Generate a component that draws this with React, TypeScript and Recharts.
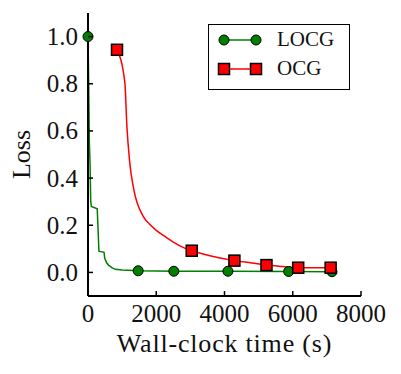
import React from "react";
import { ComposedChart, Line, Scatter, XAxis, YAxis, Legend } from "recharts";

// LOCG curve (wall-clock seconds, loss)
const locgTime = [0, 20, 40, 60, 80, 100, 270, 290, 320, 470, 490, 550, 610, 700, 800, 1000, 1470, 2515, 4100, 5880, 7150];
const locgLoss = [1.0, 0.8, 0.55, 0.46, 0.3, 0.28, 0.27, 0.2, 0.09, 0.085, 0.06, 0.04, 0.03, 0.02, 0.013, 0.01, 0.007, 0.005, 0.005, 0.004, 0.003];
const locgMarkTime = [0, 1470, 2515, 4100, 5880, 7150];
const locgMarkLoss = [1.0, 0.007, 0.005, 0.005, 0.004, 0.003];

// OCG curve
const ocgTime = [850, 1080, 1140, 1220, 1345, 1610, 1800, 2000, 2300, 2600, 2850, 3040, 3400, 3800, 4290, 4800, 5230, 5700, 6160, 6600, 7110];
const ocgLoss = [0.944, 0.805, 0.62, 0.47, 0.35, 0.24, 0.205, 0.178, 0.148, 0.12, 0.102, 0.092, 0.077, 0.063, 0.05, 0.04, 0.031, 0.025, 0.02, 0.02, 0.02];
const ocgMarkTime = [850, 3040, 4290, 5230, 6160, 7110];
const ocgMarkLoss = [0.944, 0.092, 0.05, 0.031, 0.02, 0.02];

const xTicks = [0, 2000, 4000, 6000, 8000];
const yTicks = [0, 0.2, 0.4, 0.6, 0.8, 1.0];

const zip = (t: number[], v: number[]) => t.map((x, i) => ({ t: x, v: v[i] }));
const locgLine = zip(locgTime, locgLoss);
const locgMarks = zip(locgMarkTime, locgMarkLoss);
const ocgLine = zip(ocgTime, ocgLoss);
const ocgMarks = zip(ocgMarkTime, ocgMarkLoss);

const FONT = "'Liberation Serif', 'Times New Roman', serif";
const GREEN = "#007f00";
const RED = "#ff0000";
const TICK = 5;

const BottomTick = ({ x, y, payload }: any) => (
  <g>
    <line x1={x} x2={x} y1={y} y2={y - TICK} stroke="#000" strokeWidth={1.5} />
    <text x={x} y={y + 17} textAnchor="middle" dominantBaseline="central" fontFamily={FONT} fontSize={25} fill="#111">
      {payload.value}
    </text>
  </g>
);
const TopTick = ({ x, y }: any) => (
  <line x1={x} x2={x} y1={y} y2={y + TICK} stroke="#000" strokeWidth={1.5} />
);
const LeftTick = ({ x, y, payload }: any) => (
  <g>
    <line x1={x} x2={x + TICK} y1={y} y2={y} stroke="#000" strokeWidth={1.5} />
    <text x={x - 10} y={y} textAnchor="end" dominantBaseline="central" fontFamily={FONT} fontSize={25} fill="#111">
      {payload.value.toFixed(1)}
    </text>
  </g>
);
const RightTick = ({ x, y }: any) => (
  <line x1={x} x2={x - TICK} y1={y} y2={y} stroke="#000" strokeWidth={1.5} />
);

const Circle = ({ cx, cy }: any) => (
  <circle cx={cx} cy={cy} r={5} fill={GREEN} stroke="#000" strokeWidth={1} />
);
const Square = ({ cx, cy }: any) => (
  <rect x={cx - 5.5} y={cy - 5.5} width={11} height={11} fill={RED} stroke="#000" strokeWidth={1.5} />
);

const legendItems = [
  { name: "LOCG", color: GREEN, shape: "circle" },
  { name: "OCG", color: RED, shape: "square" },
];

const LegendBox = () => (
  <div style={{ border: "1.5px solid #000", background: "#fff", width: 142, height: 66, boxSizing: "border-box", fontFamily: FONT, fontSize: 21 }}>
    {legendItems.map((it) => (
      <div key={it.name} style={{ display: "flex", alignItems: "center", height: 29 }}>
        <svg width={68} height={20} style={{ display: "block" }}>
          <line x1={15} x2={47} y1={10} y2={10} stroke={it.color} strokeWidth={1.5} />
          {it.shape === "circle"
            ? [15, 47].map((c) => <circle key={c} cx={c} cy={10} r={5} fill={it.color} stroke="#000" strokeWidth={1} />)
            : [15, 47].map((c) => <rect key={c} x={c - 5.5} y={4.5} width={11} height={11} fill={it.color} stroke="#000" strokeWidth={1.5} />)}
        </svg>
        <span style={{ color: "#111" }}>{it.name}</span>
      </div>
    ))}
  </div>
);

export default function App() {
  return (
    <ComposedChart width={385} height={358} margin={{ top: 5, right: 32, bottom: 0, left: 0 }}>
      <XAxis
        xAxisId="b" dataKey="t" type="number" domain={[0, 8000]} ticks={xTicks}
        height={70} tickSize={0} tickMargin={0} tick={<BottomTick />}
        axisLine={{ stroke: "#000", strokeWidth: 2 }}
        label={{ value: "Wall-clock time (s)", position: "center", dy: 12, fontFamily: FONT, fontSize: 26, letterSpacing: 0.8, fill: "#111" }}
      />
      <XAxis
        xAxisId="t" orientation="top" dataKey="t" type="number" domain={[0, 8000]} ticks={xTicks}
        height={0} tickSize={0} tickMargin={0} tick={<TopTick />}
        axisLine={{ stroke: "#000", strokeWidth: 2 }}
      />
      <YAxis
        yAxisId="l" dataKey="v" type="number" domain={[-0.1, 1.1]} ticks={yTicks}
        width={80} tickSize={0} tickMargin={0} tick={<LeftTick />}
        axisLine={{ stroke: "#000", strokeWidth: 2 }}
        label={{ value: "Loss", angle: -90, position: "center", dx: -27, fontFamily: FONT, fontSize: 26, fill: "#111" }}
      />
      <YAxis
        yAxisId="r" orientation="right" dataKey="v" type="number" domain={[-0.1, 1.1]} ticks={yTicks}
        width={0} tickSize={0} tickMargin={0} tick={<RightTick />}
        axisLine={{ stroke: "#000", strokeWidth: 2 }}
      />
      <Line xAxisId="b" yAxisId="l" data={locgLine} dataKey="v" type="linear" stroke={GREEN} strokeWidth={1.5} dot={false} isAnimationActive={false} />
      <Line xAxisId="b" yAxisId="l" data={ocgLine} dataKey="v" type="monotone" stroke={RED} strokeWidth={1.5} dot={false} isAnimationActive={false} />
      <Scatter xAxisId="b" yAxisId="l" data={locgMarks} dataKey="v" shape={<Circle />} isAnimationActive={false} />
      <Scatter xAxisId="b" yAxisId="l" data={ocgMarks} dataKey="v" shape={<Square />} isAnimationActive={false} />
      <Legend
        layout="vertical" align="center" verticalAlign="middle"
        content={<LegendBox />}
        wrapperStyle={{ left: 200, top: 16, width: 142 }}
      />
    </ComposedChart>
  );
}
